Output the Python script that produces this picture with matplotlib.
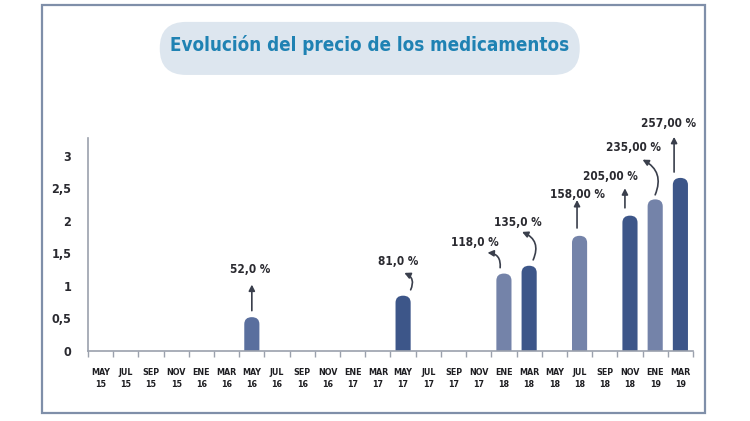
import numpy as np
import matplotlib
matplotlib.use("Agg")
import matplotlib.pyplot as plt
from matplotlib.patches import FancyBboxPatch, Rectangle

# Month labels along the x axis (Spanish abbreviations + year)
months = ['MAY', 'JUL', 'SEP', 'NOV', 'ENE', 'MAR'] * 4
years = ['15'] * 4 + ['16'] * 6 + ['17'] * 6 + ['18'] * 6 + ['19'] * 2
tick_labels = [f'{m}\n{y}' for m, y in zip(months, years)]

# Bars: category index, height, label text
bar_idx = [6, 12, 16, 17, 19, 21, 22, 23]
bar_val = [0.52, 0.85, 1.19, 1.31, 1.77, 2.08, 2.33, 2.66]
bar_lbl = ['52,0 %', '81,0 %', '118,0 %', '135,0 %', '158,00 %', '205,00 %', '235,00 %', '257,00 %']
bar_dark = [False, True, False, True, False, True, False, True]

# Label layout relative to the bar top: text (dx, dy), arrow tail (dx, dy), arrow head (dx, dy), curve
lbl_layout = [
    ((-0.07, 0.73), (0.0, 0.10), (0.0, 0.50), 0.0),
    ((-0.20, 0.52), (0.30, 0.09), (0.05, 0.35), 0.5),
    ((-1.14, 0.47), (-0.15, 0.09), (-0.65, 0.32), 0.5),
    ((-0.44, 0.67), (0.16, 0.09), (-0.28, 0.52), 0.5),
    ((-0.10, 0.64), (-0.10, 0.12), (-0.10, 0.55), 0.0),
    ((-0.79, 0.60), (-0.20, 0.12), (-0.20, 0.42), 0.0),
    ((-0.87, 0.79), (0.00, 0.07), (-0.50, 0.61), 0.45),
    ((-0.48, 0.84), (-0.25, 0.09), (-0.25, 0.63), 0.0),
]

dark_col = '#3d5689'
light_col = '#7483a9'
first_col = '#5a6f9e'
axis_col = '#9ba1ad'
text_col = '#2a2a30'

fig = plt.figure(figsize=(7.5, 4.21), dpi=100)

# outer frame and title pill
fig.patches.append(Rectangle((0.056, 0.019), 0.884, 0.969, transform=fig.transFigure,
                             fill=False, edgecolor='#7f8fa9', linewidth=1.6))
fig.patches.append(FancyBboxPatch((0.213, 0.822), 0.56, 0.126, transform=fig.transFigure,
                                  boxstyle='round,pad=0,rounding_size=0.035',
                                  mutation_aspect=750 / 421,
                                  facecolor='#dde6ef', edgecolor='none'))
fig.text(0.493, 0.893, 'Evolución del precio de los medicamentos', ha='center', va='center',
         fontsize=13.5, color='#1f82b3', family='DejaVu Sans', fontstretch='condensed',
         fontweight='bold')

ax = fig.add_axes([0.1173, 0.1663, 0.8067, 0.5487])
ax.set_xlim(-0.5, 23.5)
ax.set_ylim(0, 3.55)

width = 0.6
for i, v, d in zip(bar_idx, bar_val, bar_dark):
    col = dark_col if d else light_col
    if i == bar_idx[0]:
        col = first_col
    r = width / 2
    # rounded top; bottom pushed below zero so only the top corners show
    p = FancyBboxPatch((i - r, -0.3), width, v + 0.3,
                       boxstyle=f'round,pad=0,rounding_size={r}',
                       mutation_aspect=0.36, facecolor=col, edgecolor='none',
                       clip_on=True)
    ax.add_patch(p)

for i, v, lbl, lay in zip(bar_idx, bar_val, bar_lbl, lbl_layout):
    (tdx, tdy), (adx, ady), (hdx, hdy), rad = lay
    ax.text(i + tdx, v + tdy, lbl, ha='center', va='center', fontsize=8.5,
            fontweight='bold', color=text_col, family='DejaVu Sans',
            fontstretch='condensed', clip_on=False)
    ax.annotate('', xy=(i + hdx, v + hdy), xytext=(i + adx, v + ady),
                arrowprops=dict(arrowstyle='-|>,head_length=0.35,head_width=0.18',
                                connectionstyle=f'arc3,rad={rad}',
                                color='#3a3f4c', lw=1.2, shrinkA=0, shrinkB=0),
                annotation_clip=False)

# axes styling
for s in ['top', 'right']:
    ax.spines[s].set_visible(False)
for s in ['left', 'bottom']:
    ax.spines[s].set_color(axis_col)
    ax.spines[s].set_linewidth(1.2)
ax.spines['left'].set_bounds(0, 3.28)

ax.set_yticks([0, 0.5, 1, 1.5, 2, 2.5, 3])
ax.set_yticklabels(['0', '0,5', '1', '1,5', '2', '2,5', '3'])
ax.tick_params(axis='y', length=0, pad=12, labelsize=9, labelcolor=text_col)
for t in ax.get_yticklabels():
    t.set_family('DejaVu Sans')
    t.set_fontstretch('condensed')
    t.set_fontweight('bold')

ax.set_xticks(np.arange(24))
ax.set_xticklabels(tick_labels, linespacing=1.45)
ax.set_xticks(np.arange(-0.5, 24, 1), minor=True)
ax.tick_params(axis='x', which='major', length=0, pad=12, labelsize=6.4, labelcolor='#1e1e22')
ax.tick_params(axis='x', which='minor', length=4, width=1, color=axis_col, direction='out')
for t in ax.get_xticklabels():
    t.set_family('DejaVu Sans')
    t.set_fontstretch('condensed')
    t.set_fontweight('bold')

fig.savefig('out.png', dpi=100)
